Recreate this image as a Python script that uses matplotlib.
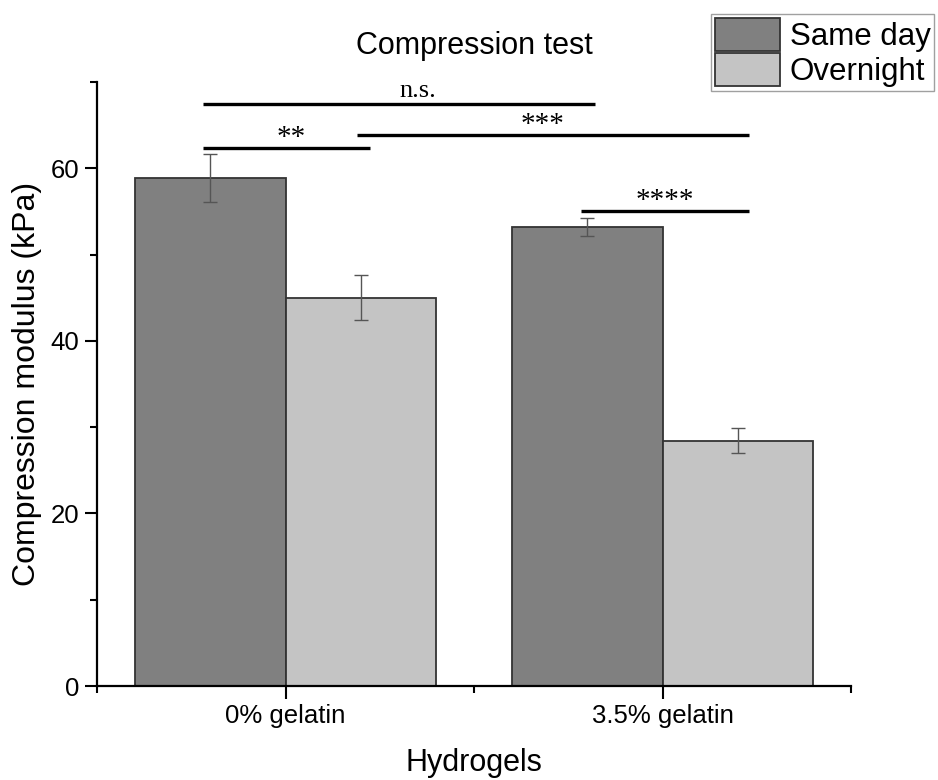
import matplotlib
matplotlib.use('Agg')
import matplotlib.pyplot as plt
import numpy as np

plt.rcParams['font.family'] = ['Liberation Sans', 'DejaVu Sans']

# data
groups = ['0% gelatin', '3.5% gelatin']
series = ['Same day', 'Overnight']
same_day = [58.9, 53.2]
same_day_err = [2.75, 1.0]
overnight = [45.0, 28.4]
overnight_err = [2.6, 1.45]

# significance brackets: (x start, x end, height, label)
brackets = [
    (-0.22, 0.82, 67.5, 'n.s.'),
    (-0.22, 0.225, 62.3, '**'),
    (0.19, 1.23, 63.8, '***'),
    (0.785, 1.23, 55.0, '****'),
]
bracket_text_x = [0.35, 0.016, 0.683, 1.007]

colors = ['#808080', '#c4c4c4']

fig = plt.figure(figsize=(9.38, 7.8), dpi=100)
ax = fig.add_axes([97/938, 1 - 686/780, (851 - 97)/938, (686 - 82)/780])

x = np.arange(len(groups))
w = 0.4
ax.bar(x - w/2, same_day, w, color=colors[0], edgecolor='#333333', linewidth=1.3, label=series[0], zorder=2)
ax.bar(x + w/2, overnight, w, color=colors[1], edgecolor='#333333', linewidth=1.3, label=series[1], zorder=2)
ax.errorbar(x - w/2, same_day, yerr=same_day_err, fmt='none', ecolor='#555555', elinewidth=1, capsize=5, capthick=1, zorder=3)
ax.errorbar(x + w/2, overnight, yerr=overnight_err, fmt='none', ecolor='#555555', elinewidth=1, capsize=5, capthick=1, zorder=3)

serif = ['Liberation Serif', 'DejaVu Serif']
for (x1, x2, y, lab), tx in zip(brackets, bracket_text_x):
    ax.plot([x1, x2], [y, y], color='black', lw=2.4, solid_capstyle='butt', clip_on=False, zorder=4)
    if lab == 'n.s.':
        ax.text(tx, y + 0.8, lab, ha='center', va='baseline', fontsize=19, family=serif, clip_on=False)
    else:
        ax.text(tx, y - 0.3, lab, ha='center', va='bottom', fontsize=21, family=serif, clip_on=False)

ax.set_xlim(-0.5, 1.5)
ax.set_ylim(0, 70)
ax.set_xticks(x)
ax.set_xticklabels(groups, fontsize=18.5)
ax.set_xticks([-0.5, 0.5, 1.5], minor=True)
ax.set_yticks([0, 20, 40, 60])
ax.set_yticks([10, 30, 50, 70], minor=True)
ax.tick_params(axis='y', labelsize=18.5)
ax.tick_params(which='major', direction='out', length=9, width=1.5, pad=4)
ax.tick_params(which='minor', direction='out', length=5, width=1.5)

for s in ['top', 'right']:
    ax.spines[s].set_visible(False)
for s in ['left', 'bottom']:
    ax.spines[s].set_linewidth(1.6)

ax.set_ylabel('Compression modulus (kPa)', fontsize=23, labelpad=6)
ax.set_xlabel('Hydrogels', fontsize=22, labelpad=14)

fig.text(474/938, 1 - 46/780, 'Compression test', ha='center', va='center', fontsize=22)

leg = fig.legend(loc='upper left', bbox_to_anchor=(711/938, 1 - 14/780), fontsize=22.5,
                 handlelength=2.1, handleheight=1.25, labelspacing=0.05, borderpad=0.12,
                 handletextpad=0.3, borderaxespad=0, fancybox=False, frameon=True)
leg.get_frame().set_edgecolor('#888888')
leg.get_frame().set_linewidth(1.0)

fig.savefig('out.png', dpi=100)
